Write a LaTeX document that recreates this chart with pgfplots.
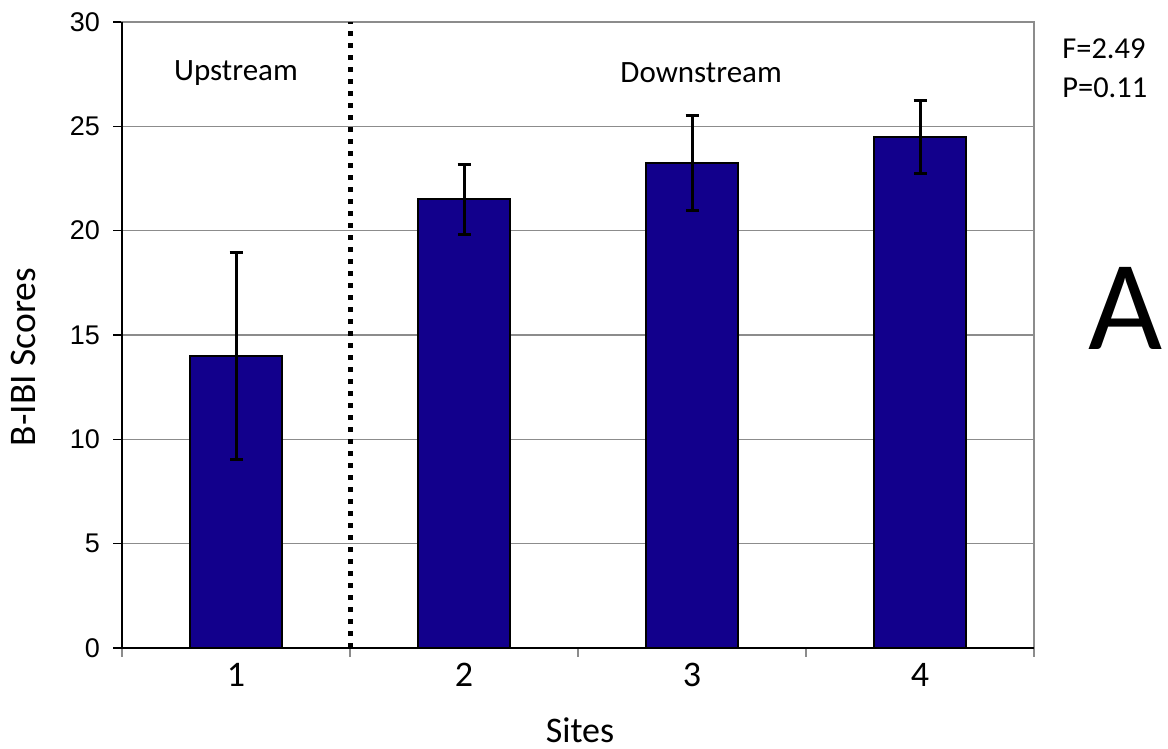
\documentclass[border=0pt]{standalone}
\usepackage{fontspec}
\setmainfont{Carlito}
\newfontfamily\arialfont{Liberation Sans}
\usepackage{pgfplots}
\pgfplotsset{compat=1.18}
\definecolor{barblue}{RGB}{18,0,140}
\definecolor{gridgray}{RGB}{140,140,140}

% Mean B-IBI score per site with its error half-width
\pgfplotstableread{
x y e
0 14.0 4.95
1 21.5 1.68
2 23.25 2.28
3 24.5 1.75
}\sitedata

\begin{document}
\begin{tikzpicture}
\path[use as bounding box] (0,0) rectangle (584pt,374.5pt);
\begin{axis}[
  at={(61pt,50.5pt)}, anchor=south west,
  scale only axis, width=456pt, height=313pt,
  xmin=-0.5, xmax=3.5, ymin=0, ymax=30,
  axis line style={gridgray, line width=0.6pt},
  xtick pos=bottom, ytick pos=left,
  xtick={-0.5,0.5,1.5,2.5,3.5}, xticklabels={},
  x tick style={gridgray, line width=0.6pt},
  extra x ticks={0,1,2,3}, extra x tick labels={1,2,3,4},
  extra x tick style={major tick length=0pt},
  xticklabel style={font=\fontsize{18}{21}\selectfont, yshift=-4pt},
  ytick={0,5,10,15,20,25,30},
  y tick style={black, line width=0.6pt},
  yticklabel style={font=\arialfont\fontsize{13.5}{16}\selectfont, xshift=-3pt},
  /pgf/number format/assume math mode=true,
  tick align=outside, major tick length=4.5pt,
  ymajorgrids, grid style={gridgray, line width=0.6pt},
  clip=false,
]
  \addplot[ybar, bar width=45.6pt, fill=barblue, draw=black, line width=1pt,
    error bars/.cd, y dir=both, y explicit,
    error bar style={black, line width=1.5pt},
    error mark options={rotate=90, mark size=3.25pt, line width=1.5pt, black}]
    table[x=x, y=y, y error=e] {\sitedata};
  % boundary between upstream and downstream sites
  \addplot[black, line width=2.5pt, dash pattern=on 2.5pt off 3.5pt]
    coordinates {(0.5,0) (0.5,30)};
  \draw[black, line width=0.8pt] (rel axis cs:0,1) -- (rel axis cs:0,0) -- (rel axis cs:1,0);
  \node[font=\fontsize{15.5}{18}\selectfont] at (axis cs:0,27.55) {Upstream};
  \node[font=\fontsize{15.5}{18}\selectfont] at (axis cs:2.04,27.55) {Downstream};
\end{axis}
\node[anchor=west, font=\fontsize{15.2}{18}\selectfont] at (527.7pt,350pt) {F=2.49};
\node[anchor=west, font=\fontsize{15.2}{18}\selectfont] at (527.7pt,330.5pt) {P=0.11};
\node[font=\fontsize{64}{70}\selectfont] at (563pt,220.5pt) {A};
\node[rotate=90, font=\fontsize{18.75}{22}\selectfont] at (11.5pt,196pt) {B-IBI Scores};
\node[font=\fontsize{18}{21}\selectfont] at (290pt,9.5pt) {Sites};
\end{tikzpicture}
\end{document}
